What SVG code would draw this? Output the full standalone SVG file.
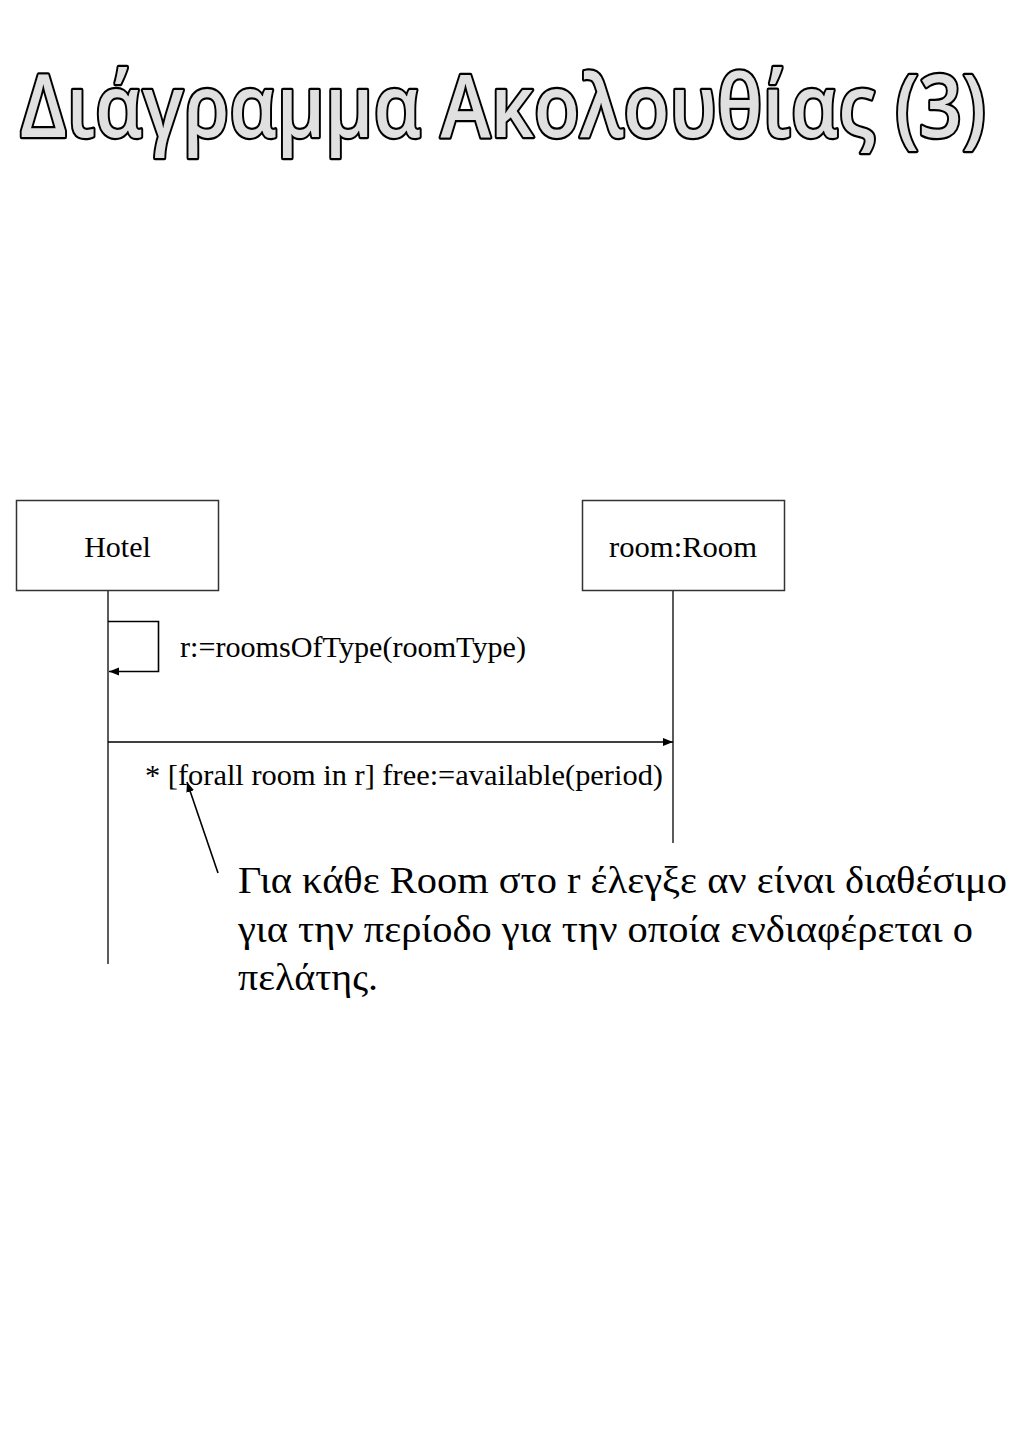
<svg xmlns="http://www.w3.org/2000/svg" width="1024" height="1448" viewBox="0 0 1024 1448">
<style>
.title{font-family:"Open Sans","Noto Sans",sans-serif;font-weight:600;font-size:86px;fill:#e0e0e0;stroke:#000;stroke-width:4.5;paint-order:stroke;stroke-linejoin:round}
.box{fill:#fff;stroke:#333;stroke-width:1.5}
.t{font-family:"Liberation Serif","DejaVu Serif","Times New Roman",serif;fill:#000}
.ln{fill:none;stroke:#000;stroke-width:1.6}
.life{fill:none;stroke:#333;stroke-width:1.6}
</style>
<defs>
<marker id="ah" viewBox="0 0 10 10" refX="10" refY="5" markerWidth="10" markerHeight="10" markerUnits="userSpaceOnUse" orient="auto">
<path d="M0,1 L10,5 L0,9 z" fill="#000"/>
</marker>
</defs>
<rect width="1024" height="1448" fill="#fff"/>
<text class="title" x="20" y="137" textLength="966" lengthAdjust="spacingAndGlyphs">Διάγραμμα Ακολουθίας (3)</text>
<g id="hotel">
<rect class="box" x="16.5" y="500.5" width="202" height="90"/>
<text class="t" x="117.5" y="557" font-size="30" text-anchor="middle">Hotel</text>
</g>
<g id="room">
<rect class="box" x="582.5" y="500.5" width="202" height="90"/>
<text class="t" x="683" y="557" font-size="30" text-anchor="middle" textLength="148" lengthAdjust="spacingAndGlyphs">room:Room</text>
</g>
<g id="lifelines">
<line class="life" x1="108" y1="591" x2="108" y2="964"/>
<line class="life" x1="673" y1="591" x2="673" y2="843"/>
</g>
<g id="connectors">
<polyline class="ln" points="108,621.5 158.5,621.5 158.5,671.5 109,671.5" marker-end="url(#ah)"/>
<line class="ln" x1="108" y1="742" x2="673" y2="742" marker-end="url(#ah)"/>
<line class="ln" x1="218" y1="873" x2="187" y2="782" marker-end="url(#ah)"/>
</g>
<g id="labels">
<text class="t" x="180" y="657" font-size="30" textLength="346" lengthAdjust="spacingAndGlyphs">r:=roomsOfType(roomType)</text>
<text class="t" x="145" y="785" font-size="30" textLength="518" lengthAdjust="spacingAndGlyphs">* [forall room in r] free:=available(period)</text>
</g>
<g id="note">
<text class="t" font-size="38">
<tspan x="238" y="893" textLength="769" lengthAdjust="spacingAndGlyphs">Για κάθε Room στο r έλεγξε αν είναι διαθέσιμο</tspan>
<tspan x="238" y="942" textLength="735" lengthAdjust="spacingAndGlyphs">για την περίοδο για την οποία ενδιαφέρεται ο</tspan>
<tspan x="238" y="990" textLength="140" lengthAdjust="spacingAndGlyphs">πελάτης.</tspan>
</text>
</g>
</svg>
